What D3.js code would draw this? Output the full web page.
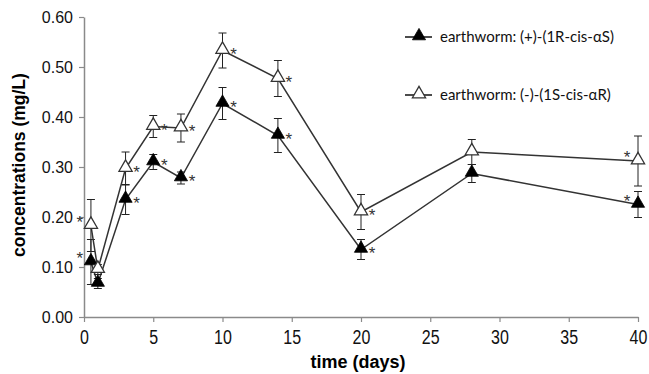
<!DOCTYPE html>
<html>
<head>
<meta charset="utf-8">
<script src="https://cdn.jsdelivr.net/npm/d3@7"></script>
<style>
  body { margin: 0; background: #fff; }
  svg { display: block; }
</style>
</head>
<body>
<svg width="649" height="374"></svg>
<script>
// sampling days
var days = [0.5, 1, 3, 5, 7, 10, 14, 20, 28, 40];

// (+)-(1R-cis-aS), filled triangles
var plusMean = [0.110, 0.067, 0.235, 0.310, 0.278, 0.427, 0.363, 0.135, 0.287, 0.225];
var plusErr  = [0.045, 0.010, 0.030, 0.015, 0.012, 0.032, 0.034, 0.020, 0.018, 0.026];
var plusStar = [1, 0, 1, 1, 1, 1, 1, 1, 0, 1];

// (-)-(1S-cis-aR), open triangles
var minusMean = [0.183, 0.095, 0.297, 0.381, 0.378, 0.533, 0.477, 0.210, 0.330, 0.312];
var minusErr  = [0.052, 0.010, 0.033, 0.022, 0.028, 0.035, 0.036, 0.035, 0.025, 0.050];
var minusStar = [1, 0, 1, 1, 1, 1, 1, 1, 0, 1];

var xTicks = [0, 5, 10, 15, 20, 25, 30, 35, 40];
var yTicks = [0, 0.1, 0.2, 0.3, 0.4, 0.5, 0.6];
var legendNames = ["earthworm: (+)-(1R-cis-\u03b1S)", "earthworm: (-)-(1S-cis-\u03b1R)"];

var svg = d3.select("svg");
var x = d3.scaleLinear().domain([0, 40]).range([84, 638]);
var y = d3.scaleLinear().domain([0, 0.6]).range([317, 17]);

// axes
var xAxis = svg.append("g")
  .attr("transform", "translate(0," + y(0) + ")")
  .call(d3.axisBottom(x).tickValues(xTicks).tickSize(5).tickSizeOuter(0).tickPadding(6));
var yAxis = svg.append("g")
  .attr("transform", "translate(" + x(0) + ",0)")
  .call(d3.axisLeft(y).tickValues(yTicks).tickFormat(d3.format(".2f")).tickSize(5).tickSizeOuter(0).tickPadding(6));

[xAxis, yAxis].forEach(function (g) {
  g.select(".domain").attr("stroke", "#8a8a8a").attr("stroke-width", 1.5);
  g.selectAll(".tick line").attr("stroke", "#8a8a8a").attr("stroke-width", 1.2);
  g.selectAll(".tick text")
    .attr("fill", "#111")
    .style("font-family", "Liberation Sans, Arial, sans-serif")
    .style("font-size", "16px");
});
// x labels look tall and narrow in the original
xAxis.selectAll(".tick text")
  .style("font-size", "20px")
  .attr("dy", "0.8em")
  .attr("transform", "scale(0.8,1)");

svg.append("text")
  .attr("x", 358).attr("y", 368)
  .attr("text-anchor", "middle")
  .style("font-family", "Liberation Sans, Arial, sans-serif")
  .style("font-size", "18px").style("font-weight", "bold")
  .text("time (days)");

svg.append("text")
  .attr("transform", "translate(25,165) rotate(-90)")
  .attr("text-anchor", "middle")
  .style("font-family", "Liberation Sans, Arial, sans-serif")
  .style("font-size", "17.5px").style("font-weight", "bold")
  .text("concentrations (mg/L)");

var tri = d3.symbol().type(d3.symbolTriangle).size(75);

function drawSeries(mean, err, star, filled) {
  var pts = days.map(function (d, i) { return { d: d, m: mean[i], e: err[i], s: star[i], i: i }; });
  var g = svg.append("g");

  g.append("path")
    .datum(pts)
    .attr("fill", "none")
    .attr("stroke", "#333")
    .attr("stroke-width", 1.5)
    .attr("d", d3.line().x(function (p) { return x(p.d); }).y(function (p) { return y(p.m); }));

  var eb = g.selectAll("g.err").data(pts).enter().append("g")
    .attr("class", "err")
    .attr("stroke", "#222").attr("stroke-width", 1);
  eb.append("line")
    .attr("x1", function (p) { return x(p.d); }).attr("x2", function (p) { return x(p.d); })
    .attr("y1", function (p) { return y(p.m - p.e); }).attr("y2", function (p) { return y(p.m + p.e); });
  eb.append("line")
    .attr("x1", function (p) { return x(p.d) - 4; }).attr("x2", function (p) { return x(p.d) + 4; })
    .attr("y1", function (p) { return y(p.m + p.e); }).attr("y2", function (p) { return y(p.m + p.e); });
  eb.append("line")
    .attr("x1", function (p) { return x(p.d) - 4; }).attr("x2", function (p) { return x(p.d) + 4; })
    .attr("y1", function (p) { return y(p.m - p.e); }).attr("y2", function (p) { return y(p.m - p.e); });

  g.selectAll("path.mk").data(pts).enter().append("path")
    .attr("class", "mk")
    .attr("transform", function (p) { return "translate(" + x(p.d) + "," + (y(p.m) - 1) + ")"; })
    .attr("d", tri)
    .attr("fill", filled ? "#000" : "#fff")
    .attr("stroke", filled ? "#000" : "#333")
    .attr("stroke-width", filled ? 0.8 : 1.3);

  // significance asterisks: first and last point put theirs on the upper left
  g.selectAll("text.st").data(pts.filter(function (p) { return p.s; })).enter().append("text")
    .attr("class", "st")
    .attr("x", function (p) {
      return (p.i === 0 || p.i === days.length - 1) ? x(p.d) - 11 : x(p.d) + 11;
    })
    .attr("y", function (p) {
      return (p.i === 0 || p.i === days.length - 1) ? y(p.m) + 2 : y(p.m) + 9;
    })
    .attr("text-anchor", "middle")
    .attr("fill", "#333")
    .style("font-family", "Liberation Sans, Arial, sans-serif")
    .style("font-size", "17px")
    .text("*");
}

drawSeries(plusMean, plusErr, plusStar, true);
drawSeries(minusMean, minusErr, minusStar, false);

// legend
var legY = [37, 95];
legendNames.forEach(function (name, i) {
  var lg = svg.append("g").attr("transform", "translate(405," + legY[i] + ")");
  lg.append("line").attr("x1", 0).attr("x2", 27).attr("y1", 0).attr("y2", 0)
    .attr("stroke", "#111").attr("stroke-width", 1.5);
  lg.append("path").attr("transform", "translate(14,-1)").attr("d", tri)
    .attr("fill", i === 0 ? "#000" : "#fff")
    .attr("stroke", i === 0 ? "#000" : "#333")
    .attr("stroke-width", i === 0 ? 0.8 : 1.3);
  lg.append("text").attr("x", 35).attr("y", 5)
    .style("font-family", "Lato, Carlito, sans-serif")
    .style("font-size", "15px")
    .attr("fill", "#111")
    .text(name);
});
</script>
</body>
</html>
